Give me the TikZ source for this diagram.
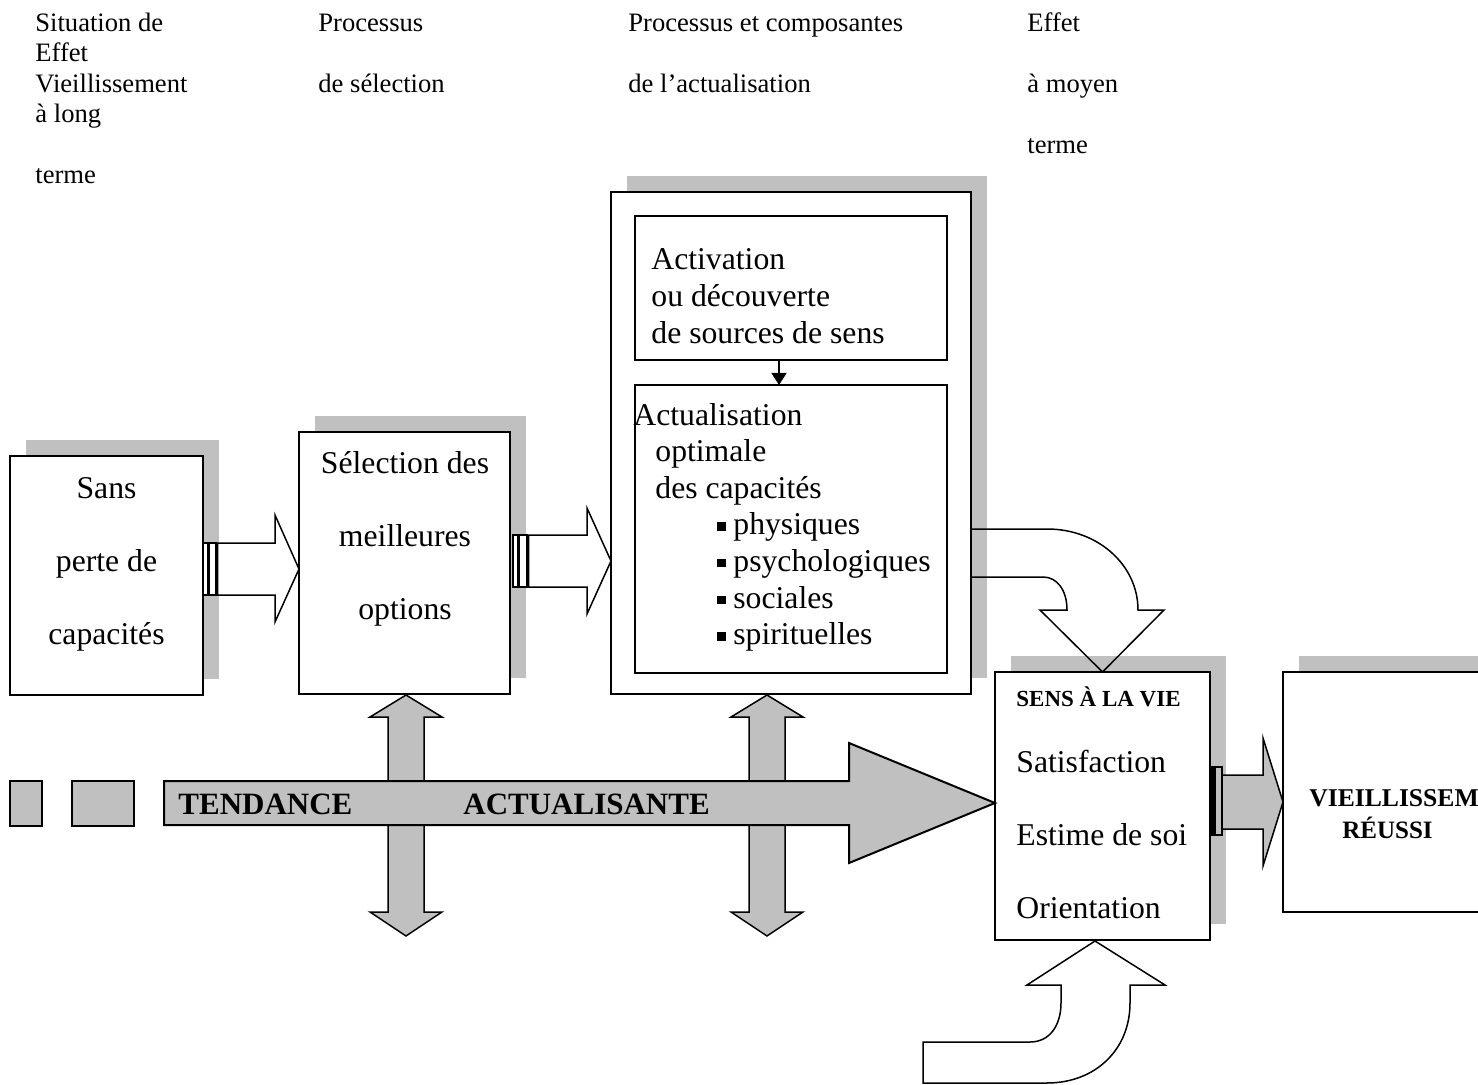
\documentclass[tikz,border=0pt]{standalone}
\usepackage{fontspec}
\setmainfont{Liberation Serif}
\usetikzlibrary{arrows.meta,shadows}
\definecolor{gris}{RGB}{192,192,192}
\newcommand{\puce}{\makebox[8pt][l]{\rule[2pt]{4.2pt}{4.2pt}}}

\begin{document}
\begin{tikzpicture}[x=0.5pt,y=-0.5pt,
    boite/.style={draw,line width=1pt,fill=white,anchor=north west,inner sep=0pt,outer sep=0pt},
    ombre/.style={general shadow={fill=gris,shadow xshift=8pt,shadow yshift=8pt}},
    bloc/.style={draw,line width=0.75pt,line join=miter},
    entete/.style={anchor=base west,align=left,inner sep=0pt,font=\fontsize{13.3}{15.25}\selectfont},
    texte/.style={anchor=base west,align=left,inner sep=0pt,font=\fontsize{15.85}{18.3}\selectfont},
    interligne/.style={inner sep=0pt,font=\fontsize{15.85}{36.5}\selectfont},
    gras/.style={anchor=base west,inner sep=0pt,font=\bfseries\fontsize{#1}{#1}\selectfont}]
  \useasboundingbox (0,0) rectangle (1478,1085);

  % en-tetes des colonnes (ancre sur la derniere ligne)
  \node[entete] (col1) at (35,184) {Situation de\\Effet\\Vieillissement\\à long\\[15.25pt]terme};
  \node[entete] (col2) at (318,92.7) {Processus\\[15.25pt]de sélection};
  \node[entete] (col3) at (628,92.7) {Processus et composantes\\[15.25pt]de l’actualisation};
  \node[entete] (col4) at (1027,153.7) {Effet\\[15.25pt]à moyen\\[15.25pt]terme};

  % boites
  \node[boite,ombre,minimum width=96.5pt,minimum height=119.5pt] (sans) at (10,456) {};
  \node[boite,ombre,minimum width=105.5pt,minimum height=131pt] (selection) at (299,432) {};
  \node[boite,ombre,minimum width=180pt,minimum height=251pt] (cadre) at (611,192) {};
  \node[boite,minimum width=156pt,minimum height=72pt] (activation) at (635,216) {};
  \node[boite,minimum width=156pt,minimum height=144pt] (actualisation) at (635,385) {};
  \node[boite,ombre,minimum width=107.5pt,minimum height=134pt] (sens) at (995,672) {};
  \node[boite,ombre,minimum width=110pt,minimum height=120pt] (reussi) at (1283,672) {};

  \draw[-{Triangle[width=7.5pt,length=6pt]},line width=0.75pt] ([xshift=-6pt]activation.south) -- ([xshift=-6pt]actualisation.north);

  % fleches verticales
  \foreach \x in {406,767}{
    \draw[bloc,fill=gris] (\x-18,785) -- (\x-18,717) -- (\x-36,717) -- (\x,695) -- (\x+36,717) -- (\x+18,717) -- (\x+18,785) -- cycle;
    \draw[bloc,fill=gris] (\x-18,820) -- (\x-18,912) -- (\x-36,912) -- (\x,936) -- (\x+36,912) -- (\x+18,912) -- (\x+18,820) -- cycle;
  }

  % tendance actualisante
  \draw[bloc,fill=gris,line width=1pt] (10,781) rectangle (42,826);
  \draw[bloc,fill=gris,line width=1pt] (72,781) rectangle (134,826);
  \draw[bloc,fill=gris,line width=1pt] (164,781) -- (849,781) -- (849,743) -- (995,803) -- (849,863) -- (849,825) -- (164,825) -- cycle;

  % fleches rayees
  \draw[bloc,fill=white] (203,543) rectangle (208,595);
  \draw[bloc,fill=white] (209.5,543) rectangle (216,595);
  \draw[bloc,fill=white] (217.5,543) -- (275,543) -- (275,515) -- (299,569) -- (275,622) -- (275,595) -- (217.5,595) -- cycle;
  \draw[bloc,fill=white] (513,535) rectangle (518,587);
  \draw[bloc,fill=white] (519.5,535) rectangle (527,587);
  \draw[bloc,fill=white] (528.5,535) -- (587,535) -- (587,508) -- (611,561) -- (587,614) -- (587,587) -- (528.5,587) -- cycle;
  \draw[bloc,fill=black] (1210,767) rectangle (1215,835);
  \draw[bloc,fill=gris] (1215,767) rectangle (1222,835);
  \draw[bloc,fill=gris] (1222,775) -- (1263,775) -- (1263,738) -- (1283,802) -- (1263,866) -- (1263,829) -- (1222,829) -- cycle;

  % fleches courbes
  \draw[bloc] (971,529) -- (1047,529) .. controls (1098,529) and (1138,565) .. (1138,610) -- (1164,610) -- (sens.north) -- (1040,610) -- (1067,610) .. controls (1067,590) and (1057,577) .. (1043,577) -- (971,577);
  \draw[bloc] (923,1042) -- (1030,1042) .. controls (1050,1042) and (1061,1025) .. (1061,1003) -- (1061,985) -- (1027,985) -- (1095,941) -- (1165,985) -- (1130,985) -- (1130,1003) .. controls (1130,1050) and (1095,1083) .. (1047,1083) -- (923,1083) -- cycle;

  % textes (ancre sur la derniere ligne)
  \node[interligne,anchor=base,align=center] (t-sans) at (106.5,644) {Sans\\perte de\\capacités};
  \node[interligne,anchor=base,align=center] (t-selection) at (405,619) {Sélection des\\meilleures\\options};
  \node[texte] (t-activation) at (651,343.2) {Activation\\ou découverte\\de sources de sens};
  \node[texte] (t-actualisation) at (633,644.6) {Actualisation\\\hspace{11pt}optimale\\\hspace{11pt}des capacités\\\hspace{42pt}\puce physiques\\\hspace{42pt}\puce psychologiques\\\hspace{42pt}\puce sociales\\\hspace{42pt}\puce spirituelles};
  \node[gras=11.5] (t-sens) at (1016,706) {SENS À LA VIE};
  \node[interligne,anchor=base west,align=left] (t-dimensions) at (1016,918) {Satisfaction\\Estime de soi\\Orientation};
  \node[gras=15.5] (t-tendance) at (178,814) {TENDANCE};
  \node[gras=15.5] (t-actualisante) at (463,814) {ACTUALISANTE};
  \node[gras=12.8] (t-vieil) at (1309,806) {VIEILLISSEMENT};
  \node[gras=12.5] (t-reussi) at (1342,838) {RÉUSSI};
\end{tikzpicture}
\end{document}
